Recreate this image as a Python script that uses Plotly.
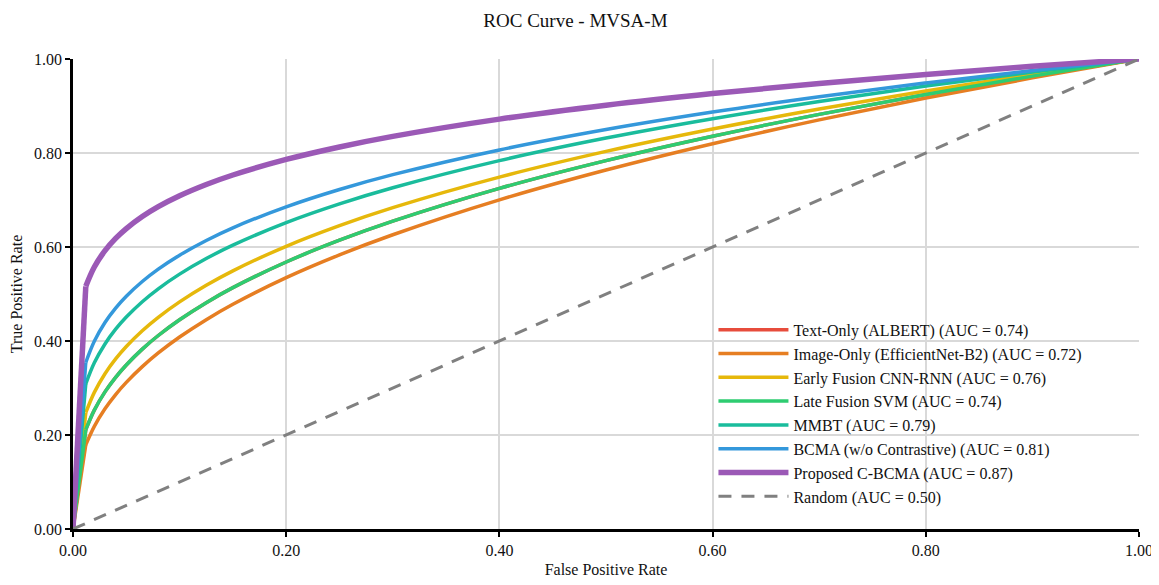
import plotly.graph_objects as go

fpr = [0.0, 0.012, 0.02, 0.03, 0.04, 0.05, 0.065, 0.08, 0.1, 0.125, 0.15,
       0.2, 0.25, 0.3, 0.4, 0.5, 0.6, 0.7, 0.8, 0.9, 1.0]

tpr_text_only = [0.0, 0.2113, 0.2529, 0.2917, 0.3227, 0.3490, 0.3827, 0.4117, 0.4452, 0.4816, 0.5135,
                 0.5681, 0.6144, 0.6550, 0.7247, 0.7838, 0.8357, 0.8822, 0.9246, 0.9636, 1.0]
tpr_image_only = [0.0, 0.1791, 0.2184, 0.2557, 0.2860, 0.3119, 0.3454, 0.3745, 0.4084, 0.4454, 0.4782,
                  0.5348, 0.5833, 0.6261, 0.7003, 0.7638, 0.8198, 0.8705, 0.9169, 0.9598, 1.0]
tpr_early_fusion = [0.0, 0.2474, 0.2907, 0.3304, 0.3619, 0.3883, 0.4218, 0.4504, 0.4833, 0.5186, 0.5493,
                    0.6015, 0.6454, 0.6837, 0.7487, 0.8034, 0.8510, 0.8935, 0.9319, 0.9673, 1.0]
tpr_late_fusion = [0.0, 0.2113, 0.2529, 0.2917, 0.3227, 0.3490, 0.3827, 0.4117, 0.4452, 0.4816, 0.5135,
                   0.5681, 0.6144, 0.6550, 0.7247, 0.7838, 0.8357, 0.8822, 0.9246, 0.9636, 1.0]
tpr_mmbt = [0.0, 0.3086, 0.3535, 0.3937, 0.4251, 0.4510, 0.4836, 0.5111, 0.5423, 0.5754, 0.6039,
            0.6519, 0.6918, 0.7261, 0.7838, 0.8318, 0.8730, 0.9096, 0.9424, 0.9724, 1.0]
tpr_bcma = [0.0, 0.3543, 0.3994, 0.4393, 0.4699, 0.4952, 0.5266, 0.5529, 0.5826, 0.6139, 0.6408,
            0.6855, 0.7224, 0.7539, 0.8065, 0.8499, 0.8871, 0.9197, 0.9490, 0.9756, 1.0]
tpr_cbcma = [0.0, 0.5164, 0.5574, 0.5922, 0.6182, 0.6391, 0.6647, 0.6857, 0.7089, 0.7329, 0.7532,
             0.7863, 0.8129, 0.8354, 0.8721, 0.9017, 0.9265, 0.9481, 0.9672, 0.9844, 1.0]
random_x = [0.0, 1.0]
random_y = [0.0, 1.0]

names = [
    "Text-Only (ALBERT) (AUC = 0.74)",
    "Image-Only (EfficientNet-B2) (AUC = 0.72)",
    "Early Fusion CNN-RNN (AUC = 0.76)",
    "Late Fusion SVM (AUC = 0.74)",
    "MMBT (AUC = 0.79)",
    "BCMA (w/o Contrastive) (AUC = 0.81)",
    "Proposed C-BCMA (AUC = 0.87)",
]
series = [tpr_text_only, tpr_image_only, tpr_early_fusion, tpr_late_fusion,
          tpr_mmbt, tpr_bcma, tpr_cbcma]
colors = ["#e74c3c", "#e67e22", "#e6b80b", "#2ecc71", "#1abc9c", "#3498db", "#9b59b6"]
widths = [3.5, 3.5, 3.5, 3.5, 3.5, 3.5, 5.5]

fig = go.Figure()
for i, (name, ys, c, w) in enumerate(zip(names, series, colors, widths)):
    grp = f"g{i}"
    # steep first segment from the origin (straight, with a corner at the first threshold)
    fig.add_trace(go.Scatter(x=fpr[:2], y=ys[:2], mode="lines", legendgroup=grp,
                             showlegend=False, hoverinfo="skip",
                             line=dict(color=c, width=w)))
    # remainder of the curve, smooth
    fig.add_trace(go.Scatter(x=fpr[1:], y=ys[1:], mode="lines", name=name, legendgroup=grp,
                             line=dict(color=c, width=w, shape="spline", smoothing=1.0)))
fig.add_trace(go.Scatter(x=random_x, y=random_y, mode="lines", name="Random (AUC = 0.50)",
                         line=dict(color="#808080", width=3, dash="13px,10px")))

font_family = "Liberation Serif"
fig.update_layout(
    width=1151, height=577,
    margin=dict(l=65, r=20, t=51, b=56, autoexpand=False),
    paper_bgcolor="white", plot_bgcolor="white",
    font=dict(family=font_family, size=16, color="#111111"),
    title=dict(text="ROC Curve - MVSA-M", x=0.493, xref="container", xanchor="center",
               y=0.99, yref="container", yanchor="top", pad=dict(t=0, b=0),
               font=dict(family=font_family, size=19, color="#111111")),
    legend=dict(x=0.6008, y=0.46, xanchor="left", yanchor="top",
                bgcolor="rgba(0,0,0,0)", borderwidth=0, itemwidth=70,
                font=dict(family=font_family, size=16, color="#111111"),
                tracegroupgap=0),
    showlegend=True,
)
axis_common = dict(range=[0, 1], tickvals=[0, 0.2, 0.4, 0.6, 0.8, 1.0], tickformat=".2f",
                   showline=True, linecolor="black", linewidth=2.5, mirror=False,
                   ticks="outside", tickcolor="black", tickwidth=2, ticklen=5,
                   showgrid=True, gridcolor="#d9d9d9", gridwidth=2, zeroline=False,
                   tickfont=dict(family=font_family, size=16, color="#111111"))
fig.update_xaxes(**axis_common,
                 title=dict(text="False Positive Rate", font=dict(family=font_family, size=16), standoff=6))
fig.update_yaxes(**axis_common,
                 title=dict(text="True Positive Rate", font=dict(family=font_family, size=16), standoff=8))

fig.write_html("out.html")
